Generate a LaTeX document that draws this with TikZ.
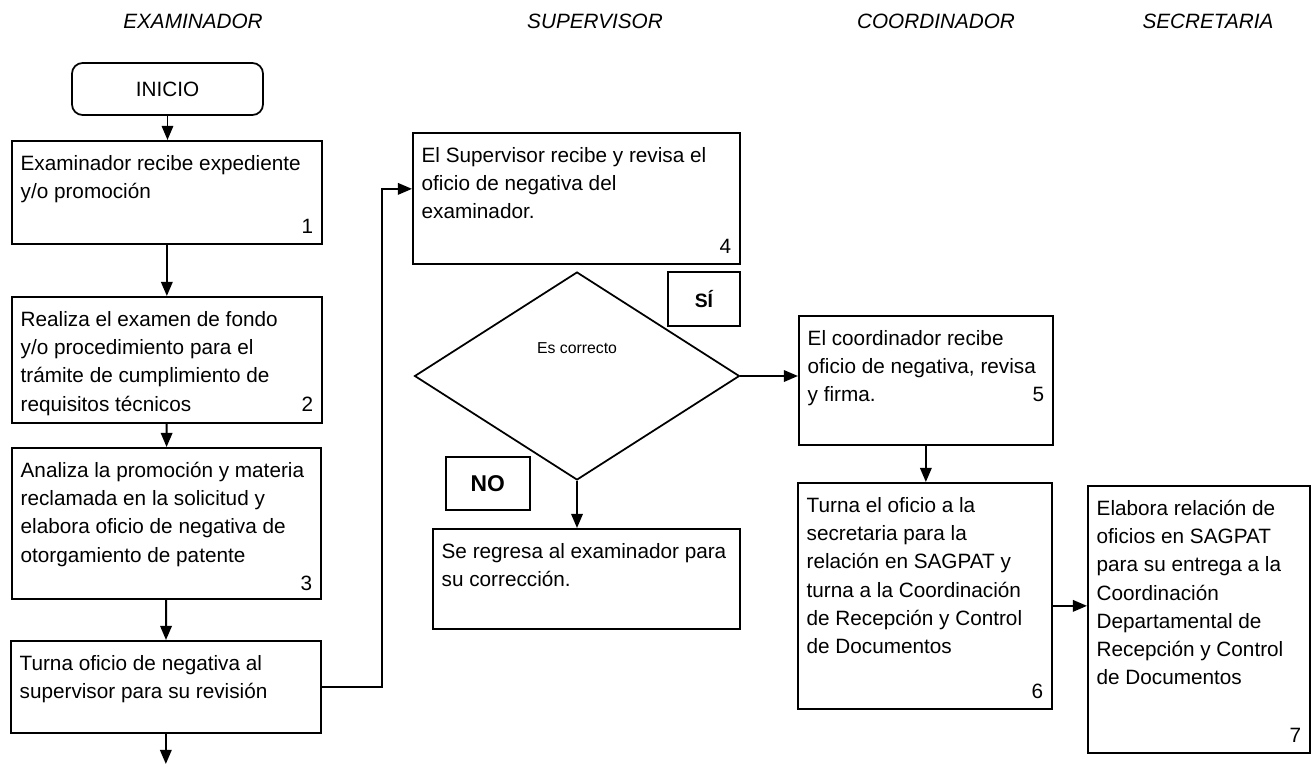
\documentclass[tikz,border=0pt]{standalone}
\usepackage{fontspec}
\setmainfont{Liberation Sans}
\usetikzlibrary{arrows.meta,shapes.geometric,positioning}

\newcommand{\steptext}[4]{\parbox[c][\dimexpr#2-12pt\relax][t]{\dimexpr#1-10pt\relax}{\raggedright\rule{0pt}{11pt}#3\par\vfill\if\relax\detokenize{#4}\relax\else\hfill #4\fi}}

\begin{document}
\begin{tikzpicture}[x=0.02cm, y=-0.02cm, >={Triangle[length=8pt,width=6.5pt]},
    stepbox/.style={rectangle, draw, line width=1pt, inner xsep=5pt, inner ysep=6pt, anchor=north west, font=\fontsize{11.8}{16}\selectfont},
    lane/.style={font=\fontsize{11.8}{14}\selectfont\itshape},
    answer/.style={rectangle, draw, line width=1pt, inner sep=0pt, anchor=north west, font=\bfseries},
    decision/.style={diamond, draw, line width=1pt, inner sep=0pt, minimum width=6.5cm, minimum height=4.16cm},
    edge/.style={->, line width=1.1pt}]

\useasboundingbox (0,0) rectangle (1311,767);

\node [lane] (examinador) at (193,21) {EXAMINADOR};
\node [lane] (supervisor) at (595,21) {SUPERVISOR};
\node [lane] (coordinador) at (936,21) {COORDINADOR};
\node [lane] (secretaria) at (1208,21) {SECRETARIA};

\node [draw, line width=1pt, rounded corners=6pt, minimum width=3.82cm, minimum height=1.04cm, font=\fontsize{11.8}{14}\selectfont] (inicio) at (167.5,89) {INICIO};

\node [stepbox] (recibe) at (11,140) {\steptext{6.2cm}{2.06cm}{Examinador recibe expediente\\y/o promoción}{1}};
\node [stepbox] (examen) at (11,296) {\steptext{6.2cm}{2.52cm}{Realiza el examen de fondo\\y/o procedimiento para el\\trámite de cumplimiento de\\requisitos técnicos\hfill 2}{}};
\node [stepbox] (analiza) at (11,447) {\steptext{6.18cm}{3.02cm}{Analiza la promoción y materia\\reclamada en la solicitud y\\elabora oficio de negativa de\\otorgamiento de patente}{3}};
\node [stepbox] (turna) at (10,640) {\steptext{6.2cm}{1.84cm}{Turna oficio de negativa al\\supervisor para su revisión}{}};
\coordinate (fin) at (165,764);

\node [stepbox] (revisa) at (412,132) {\steptext{6.54cm}{2.62cm}{El Supervisor recibe y revisa el\\oficio de negativa del\\examinador.}{4}};
\node [decision] (check) at (577,376) {};
\node [font=\fontsize{9}{11}\selectfont] (checktxt) at (577,348) {Es correcto};
\node [answer, minimum width=1.44cm, minimum height=1.08cm, font=\fontsize{11}{13}\selectfont\bfseries] (si) at (667,271) {SÍ};
\node [answer, minimum width=1.68cm, minimum height=1.06cm, font=\fontsize{13}{15}\selectfont\bfseries] (no) at (445,456) {NO};
\node [stepbox] (regresa) at (432,528) {\steptext{6.14cm}{2.0cm}{Se regresa al examinador para\\su corrección.}{}};

\node [stepbox] (firma) at (798,315) {\steptext{5.08cm}{2.58cm}{El coordinador recibe\\oficio de negativa, revisa\\y firma.\hfill 5}{}};
\node [stepbox] (relacion) at (797,482) {\steptext{5.08cm}{4.52cm}{Turna el oficio a la\\secretaria para la\\relación en SAGPAT y\\turna a la Coordinación\\de Recepción y Control\\de Documentos}{6}};

\node [stepbox] (entrega) at (1087,485) {\steptext{4.44cm}{5.34cm}{Elabora relación de\\oficios en SAGPAT\\para su entrega a la\\Coordinación\\Departamental de\\Recepción y Control\\de Documentos}{7}};

\draw [edge] (inicio.south) -- (inicio.south |- recibe.north);
\draw [edge] (recibe) -- (examen);
\draw [edge] (examen) -- (analiza);
\draw [edge] (analiza) -- (turna);
\draw [edge] (turna.south) -- (turna.south |- fin);
\draw [edge] (turna.east) -- ++(60,0) |- ([yshift=0.19cm]revisa.west);
\draw [edge] (check.east) -- (check.east -| firma.west);
\draw [edge] (check.south) -- (check.south |- regresa.north);
\draw [edge] (firma.south) -- (firma.south |- relacion.north);
\draw [edge] ([yshift=-0.2cm]relacion.east) -- ([yshift=-0.2cm]relacion.east -| entrega.west);

\end{tikzpicture}
\end{document}
